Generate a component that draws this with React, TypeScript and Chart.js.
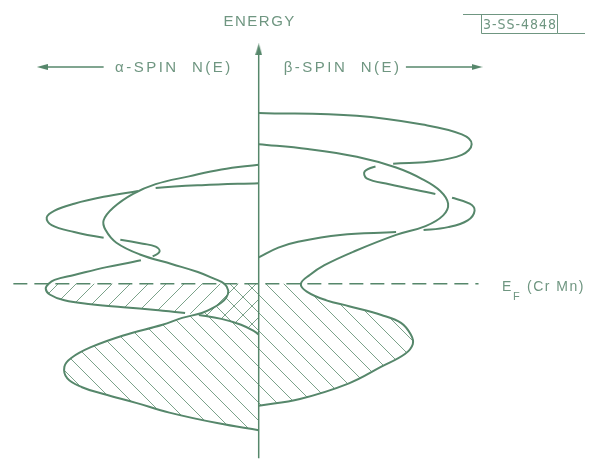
import React, { useEffect, useRef } from "react";
import { Chart, registerables } from "chart.js";

Chart.register(...registerables);

const LINE = "#56876b";
const TEXT = "#6f9681";
const HATCH = "rgba(100,146,118,0.85)";

// Fermi level (energy origin)
const fermiEnergy = 0;
const fermiLineN = [-250, 224];

// β-spin N(E) (right side) — upper band
const betaUpperN = [0, 100, 167, 207, 217, 207, 173, 137, 119, 108, 110, 133, 180, 197, 215, 220, 213, 193, 168, 140, 83, 40, 20, 0];
const betaUpperE = [175, 172, 163, 153, 143, 132, 125, 123, 120, 115, 108, 102, 92, 88, 82, 75, 65, 58, 55, 53, 50, 43, 37, 27];
const betaUpperGaps = [7, 12, 18];

// β-spin N(E) (right side) — lower band
const betaLowerN = [0, 50, 100, 140, 167, 185, 193, 188, 170, 140, 97, 67, 52, 43, 49, 69, 92, 125, 145, 155, 157, 149, 125, 92, 42, 0];
const betaLowerE = [143, 138, 130, 119, 107, 95, 82, 70, 59, 50, 33, 19, 9, 0, -8, -17, -23, -32, -40, -52, -62, -72, -85, -102, -118, -125];
const betaLowerGaps: number[] = [];

// α-spin N(E) (left side) — outer band
const alphaOuterN = [0, 38, 71, 105, 128, 148, 158, 156, 145, 121, 88, 62, 45, 35, 31, 33, 39, 47, 58, 78, 98, 138, 171, 191, 198, 195, 180, 158, 125, 91, 41, 0];
const alphaOuterE = [122, 117, 110, 102, 92, 78, 65, 55, 42, 30, 20, 12, 5, 0, -7, -14, -20, -25, -30, -35, -42, -53, -65, -76, -85, -97, -106, -113, -122, -132, -143, -150];
const alphaOuterGaps: number[] = [];

// α-spin N(E) (left side) — inner band
const alphaInnerN = [0, 58, 105, 123, 158, 188, 208, 216, 211, 188, 158, 141, 118, 105, 101, 108, 120, 155, 188, 208, 214, 217, 213, 198, 171, 138, 105, 75, 61, 38, 18, 4, 0];
const alphaInnerE = [103, 101, 98, 95, 89, 82, 75, 68, 60, 53, 47, 45, 41, 38, 33, 28, 24, 17, 9, 4, 0, -5, -11, -17, -21, -24, -27, -30, -32, -36, -42, -49, -52];
const alphaInnerGaps = [2, 10, 15, 27];

// axes (energy axis and spin arrows)
const energyAxisE = [240, -179];
const spinArrowE = 222;
const alphaArrowN = [158, 220.5];
const betaArrowN = [150, 222.5];

function makeHatch(ctx: CanvasRenderingContext2D, dir: number, s: number) {
  const c = document.createElement("canvas");
  c.width = s;
  c.height = s;
  const g = c.getContext("2d")!;
  g.strokeStyle = HATCH;
  g.lineWidth = 1;
  g.beginPath();
  for (let k = -1; k <= 1; k++) {
    if (dir > 0) {
      g.moveTo(k * s, 0);
      g.lineTo(k * s + s, s);
    } else {
      g.moveTo(k * s, s);
      g.lineTo(k * s + s, 0);
    }
  }
  g.stroke();
  return ctx.createPattern(c, "repeat")!;
}

function makeArrowHead(w: number, h: number) {
  const c = document.createElement("canvas");
  c.width = w;
  c.height = h;
  const g = c.getContext("2d")!;
  g.fillStyle = LINE;
  g.beginPath();
  g.moveTo(w / 2, 0);
  g.lineTo(w, h);
  g.lineTo(0, h);
  g.closePath();
  g.fill();
  return c;
}

function curve(N: number[], E: number[], sign: number, gaps: number[]) {
  return {
    data: N.map((n, i) => ({ x: sign * n, y: E[i] })),
    showLine: true,
    borderColor: LINE,
    borderWidth: 2,
    tension: 0.4,
    pointRadius: 0,
    fill: false,
    order: 1,
    segment: {
      borderColor: (c: any) => (gaps.includes(c.p0DataIndex) ? "rgba(0,0,0,0)" : LINE),
    },
  };
}

function occupied(N: number[], E: number[], sign: number, pattern: CanvasPattern) {
  const k = E.findIndex((e) => e <= fermiEnergy);
  const pts = N.slice(k).map((n, j) => ({ x: sign * n, y: E[k + j] }));
  const first = pts[0];
  const last = pts[pts.length - 1];
  const origin = { x: 0, y: fermiEnergy };
  return {
    data: [first, ...pts, last, origin, { ...origin }],
    showLine: true,
    borderColor: "rgba(0,0,0,0)",
    borderWidth: 0,
    backgroundColor: pattern,
    fill: "shape",
    tension: 0.4,
    pointRadius: 0,
    order: 5,
  };
}

const labelsPlugin = {
  id: "labels",
  afterDraw(chart: any) {
    const { ctx } = chart;
    const xs = chart.scales.x;
    const ys = chart.scales.y;
    const x0 = xs.getPixelForValue(0);
    const yF = ys.getPixelForValue(fermiEnergy);
    const yA = ys.getPixelForValue(spinArrowE);
    ctx.save();
    ctx.fillStyle = TEXT;
    ctx.strokeStyle = TEXT;
    ctx.textBaseline = "alphabetic";
    const sans = '"Liberation Sans", Arial, sans-serif';

    ctx.font = "15px " + sans;
    ctx.letterSpacing = "1.5px";
    ctx.textAlign = "center";
    ctx.fillText("ENERGY", x0 + 1, 26);

    ctx.textAlign = "left";
    ctx.letterSpacing = "2.5px";
    ctx.fillText("\u03b1-SPIN  N(E)", 115, yA + 5);
    ctx.fillText("\u03b2-SPIN  N(E)", x0 + 25, yA + 5);

    ctx.font = "14px " + sans;
    ctx.letterSpacing = "1.5px";
    ctx.fillText("E", 502, yF + 7);
    ctx.font = "11px " + sans;
    ctx.fillText("F", 513, yF + 16);
    ctx.font = "14px " + sans;
    ctx.fillText("(Cr Mn)", 527, yF + 7);

    // drawing number tag
    ctx.lineWidth = 1;
    ctx.beginPath();
    ctx.moveTo(463, 14.5);
    ctx.lineTo(557.5, 14.5);
    ctx.lineTo(557.5, 33.5);
    ctx.lineTo(585, 33.5);
    ctx.moveTo(481.5, 14.5);
    ctx.lineTo(481.5, 33.5);
    ctx.lineTo(557.5, 33.5);
    ctx.stroke();
    ctx.font = '14px "Liberation Sans Narrow", "DejaVu Sans Condensed", sans-serif';
    ctx.letterSpacing = "1px";
    ctx.textAlign = "center";
    ctx.fillText("3-SS-4848", 520, 29);
    ctx.restore();
  },
};

export default function App() {
  const ref = useRef<HTMLCanvasElement | null>(null);
  useEffect(() => {
    const canvas = ref.current!;
    const ctx = canvas.getContext("2d")!;
    const back = makeHatch(ctx, 1, 18);
    const fwd = makeHatch(ctx, -1, 18);
    const headV = makeArrowHead(7, 12);
    const headH = makeArrowHead(6, 11);

    const datasets: any[] = [
      {
        data: energyAxisE.map((e) => ({ x: 0, y: e })),
        showLine: true,
        borderColor: LINE,
        borderWidth: 1.5,
        pointRadius: [1, 0],
        pointStyle: headV,
        rotation: 0,
        order: 0,
      },
      {
        data: alphaArrowN.map((n) => ({ x: -n, y: spinArrowE })),
        showLine: true,
        borderColor: LINE,
        borderWidth: 1.3,
        pointRadius: [0, 1],
        pointStyle: headH,
        rotation: -90,
        order: 0,
      },
      {
        data: betaArrowN.map((n) => ({ x: n, y: spinArrowE })),
        showLine: true,
        borderColor: LINE,
        borderWidth: 1.3,
        pointRadius: [0, 1],
        pointStyle: headH,
        rotation: 90,
        order: 0,
      },
      {
        data: fermiLineN.map((n) => ({ x: n, y: fermiEnergy })),
        showLine: true,
        borderColor: LINE,
        borderWidth: 1.3,
        borderDash: [14, 7],
        pointRadius: 0,
        order: 0,
      },
      curve(betaUpperN, betaUpperE, 1, betaUpperGaps),
      curve(betaLowerN, betaLowerE, 1, betaLowerGaps),
      curve(alphaOuterN, alphaOuterE, -1, alphaOuterGaps),
      curve(alphaInnerN, alphaInnerE, -1, alphaInnerGaps),
      occupied(betaLowerN, betaLowerE, 1, back),
      occupied(alphaOuterN, alphaOuterE, -1, back),
      occupied(alphaInnerN, alphaInnerE, -1, fwd),
    ];

    const chart = new Chart(canvas, {
      type: "scatter",
      data: { datasets },
      options: {
        animation: false,
        responsive: false,
        maintainAspectRatio: false,
        events: [],
        layout: { padding: 0 },
        plugins: {
          legend: { display: false },
          tooltip: { enabled: false },
          title: { display: false },
        },
        scales: {
          x: { type: "linear", min: -258, max: 333, display: false },
          y: { type: "linear", min: -179, max: 285, display: false },
        },
      },
      plugins: [labelsPlugin],
    } as any);
    return () => chart.destroy();
  }, []);

  return (
    <div style={{ position: "absolute", left: 0, top: 0, width: 591, height: 464, background: "#fff" }}>
      <canvas ref={ref} width={591} height={464} style={{ display: "block" }} />
    </div>
  );
}
